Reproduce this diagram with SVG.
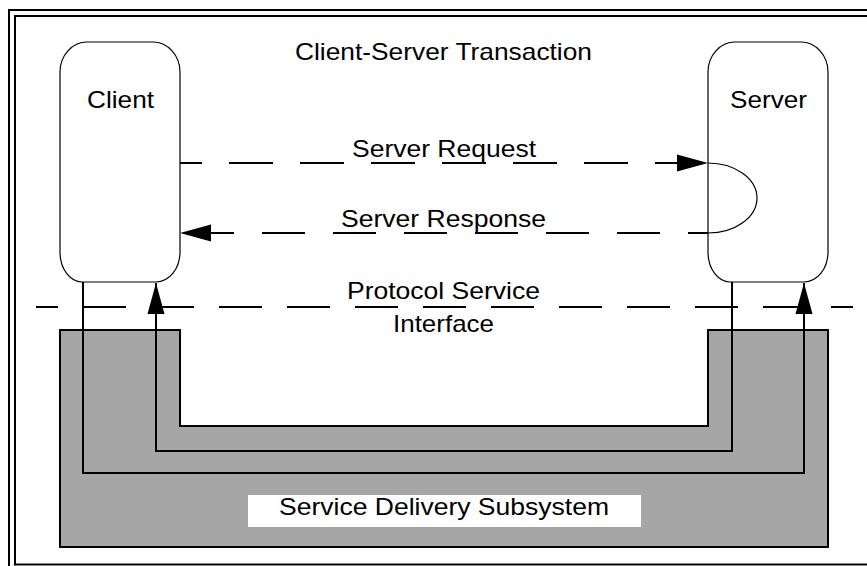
<svg xmlns="http://www.w3.org/2000/svg" width="867" height="566" viewBox="0 0 867 566">
<style>
text{font-family:"Liberation Sans",Arial,Helvetica,sans-serif;font-size:24px;fill:#000;text-anchor:middle}
.box{fill:#fff;stroke:#000;stroke-width:1.2}
.ln{fill:none;stroke:#000;stroke-width:2}
.dash{fill:none;stroke:#000;stroke-width:2}
</style>
<defs>
<marker id="ah" markerUnits="userSpaceOnUse" markerWidth="31" markerHeight="18" refX="31" refY="9" orient="auto">
<path d="M0,0.5 L31,9 L0,17.5 Z" fill="#000"/>
</marker>
</defs>
<g id="frame">
<rect x="9" y="10" width="900" height="600" fill="none" stroke="#000" stroke-width="2"/>
<rect x="15" y="16" width="900" height="548.5" fill="none" stroke="#000" stroke-width="2"/>
</g>
<text id="title" x="443.5" y="60" textLength="297" lengthAdjust="spacingAndGlyphs">Client-Server Transaction</text>
<g id="subsystem">
<path d="M60,330 H180 V426 H708 V330 H828 V547 H60 Z" fill="#a6a6a6" stroke="#000" stroke-width="2"/>
<rect x="248" y="495" width="393" height="32" fill="#fff"/>
<text x="444" y="515" textLength="330" lengthAdjust="spacingAndGlyphs">Service Delivery Subsystem</text>
</g>
<g id="client">
<path class="box" d="M87,42 H153 A27,30 0 0 1 180,72 V252 A24,30 0 0 1 156,282 H82 A22,30 0 0 1 60,252 V72 A27,30 0 0 1 87,42 Z"/>
<text x="120.5" y="108" textLength="67" lengthAdjust="spacingAndGlyphs">Client</text>
</g>
<g id="server">
<path class="box" d="M735,42 H801 A27,30 0 0 1 828,72 V252 A24,30 0 0 1 804,282 H730 A22,30 0 0 1 708,252 V72 A27,30 0 0 1 735,42 Z"/>
<text x="768.5" y="108" textLength="77" lengthAdjust="spacingAndGlyphs">Server</text>
</g>
<g id="interface">
<path class="dash" d="M36,307 H853" stroke-dasharray="43 25" stroke-dashoffset="21"/>
<text x="443.5" y="299" textLength="193" lengthAdjust="spacingAndGlyphs">Protocol Service</text>
<text x="443.5" y="331.5" textLength="101" lengthAdjust="spacingAndGlyphs">Interface</text>
</g>
<g id="connectors">
<path class="dash" d="M180,163 H708" stroke-dasharray="44 27" stroke-dashoffset="22" marker-end="url(#ah)"/>
<path d="M708,163 A49,35 0 0 1 708,233" fill="none" stroke="#000" stroke-width="1.2"/>
<path class="dash" d="M708,233 H180" stroke-dasharray="43 28" stroke-dashoffset="23" marker-end="url(#ah)"/>
<path class="ln" d="M83,282 V473 H804 V283" marker-end="url(#ah)"/>
<path class="ln" d="M732,282 V451 H156 V283" marker-end="url(#ah)"/>
<text x="444" y="157" textLength="184" lengthAdjust="spacingAndGlyphs">Server Request</text>
<text x="443.5" y="227" textLength="205" lengthAdjust="spacingAndGlyphs">Server Response</text>
</g>
</svg>
